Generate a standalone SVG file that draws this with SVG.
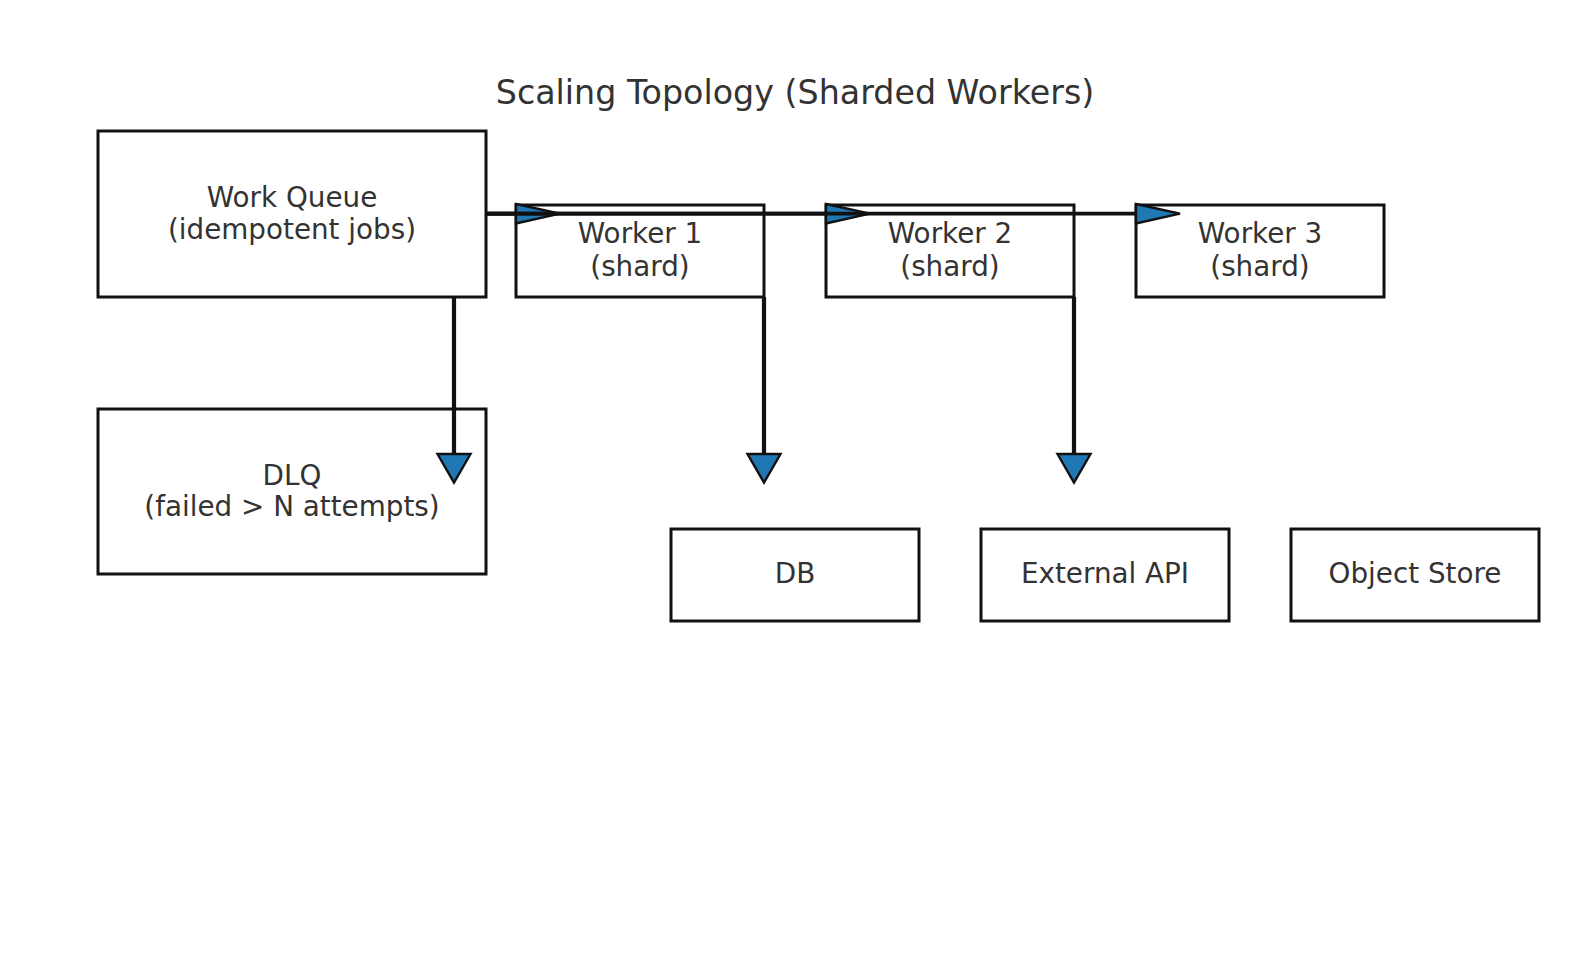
<svg xmlns="http://www.w3.org/2000/svg" width="1589" height="964" viewBox="0 0 1589 964">
<style>
.box{fill:#fff;stroke:#111;stroke-width:3}
.t{font-family:"DejaVu Sans",sans-serif;font-size:27.8px;fill:#333;text-anchor:middle}
.title{font-family:"DejaVu Sans",sans-serif;font-size:33.3px;fill:#333;text-anchor:middle}
.ln{stroke:#111;fill:none}
.h{fill:#1f77b4;stroke:#111;stroke-width:2.4;stroke-linejoin:miter}
</style>
<rect width="1589" height="964" fill="#fff"/>
<text class="title" x="795" y="103.5">Scaling Topology (Sharded Workers)</text>
<g id="queue"><rect class="box" x="98" y="131" width="388" height="166"/><text class="t" x="292" y="206.5">Work Queue</text><text class="t" x="292" y="239">(idempotent jobs)</text></g>
<g id="dlq"><rect class="box" x="98" y="409" width="388" height="165"/><text class="t" x="292" y="484.5">DLQ</text><text class="t" x="292" y="516">(failed &gt; N attempts)</text></g>
<g id="w1"><rect class="box" x="516" y="205" width="248" height="92"/><text class="t" x="640" y="243">Worker 1</text><text class="t" x="640" y="275.5">(shard)</text></g>
<g id="w2"><rect class="box" x="826" y="205" width="248" height="92"/><text class="t" x="950" y="243">Worker 2</text><text class="t" x="950" y="275.5">(shard)</text></g>
<g id="w3"><rect class="box" x="1136" y="205" width="248" height="92"/><text class="t" x="1260" y="243">Worker 3</text><text class="t" x="1260" y="275.5">(shard)</text></g>
<g id="db"><rect class="box" x="671" y="529" width="248" height="92"/><text class="t" x="795" y="582.5">DB</text></g>
<g id="api"><rect class="box" x="981" y="529" width="248" height="92"/><text class="t" x="1105" y="582.5">External API</text></g>
<g id="store"><rect class="box" x="1291" y="529" width="248" height="92"/><text class="t" x="1415" y="582.5">Object Store</text></g>
<g id="connectors">
<line class="ln" stroke-width="3.8" x1="486" y1="213.7" x2="516" y2="213.7"/>
<polygon class="h" points="516,204 560,213.7 516,223.4"/>
<line class="ln" stroke-width="3.8" x1="486" y1="213.7" x2="826" y2="213.7"/>
<polygon class="h" points="826,204 870,213.7 826,223.4"/>
<line class="ln" stroke-width="3.8" x1="486" y1="213.7" x2="1136" y2="213.7"/>
<polygon class="h" points="1136,204 1180,213.7 1136,223.4"/>
<line class="ln" stroke-width="4.2" x1="454" y1="297" x2="454" y2="454"/>
<polygon class="h" points="437.5,454 470.5,454 454,482.5"/>
<line class="ln" stroke-width="4.2" x1="764" y1="297" x2="764" y2="454"/>
<polygon class="h" points="747.5,454 780.5,454 764,482.5"/>
<line class="ln" stroke-width="4.2" x1="1074" y1="297" x2="1074" y2="454"/>
<polygon class="h" points="1057.5,454 1090.5,454 1074,482.5"/>
</g>
</svg>
